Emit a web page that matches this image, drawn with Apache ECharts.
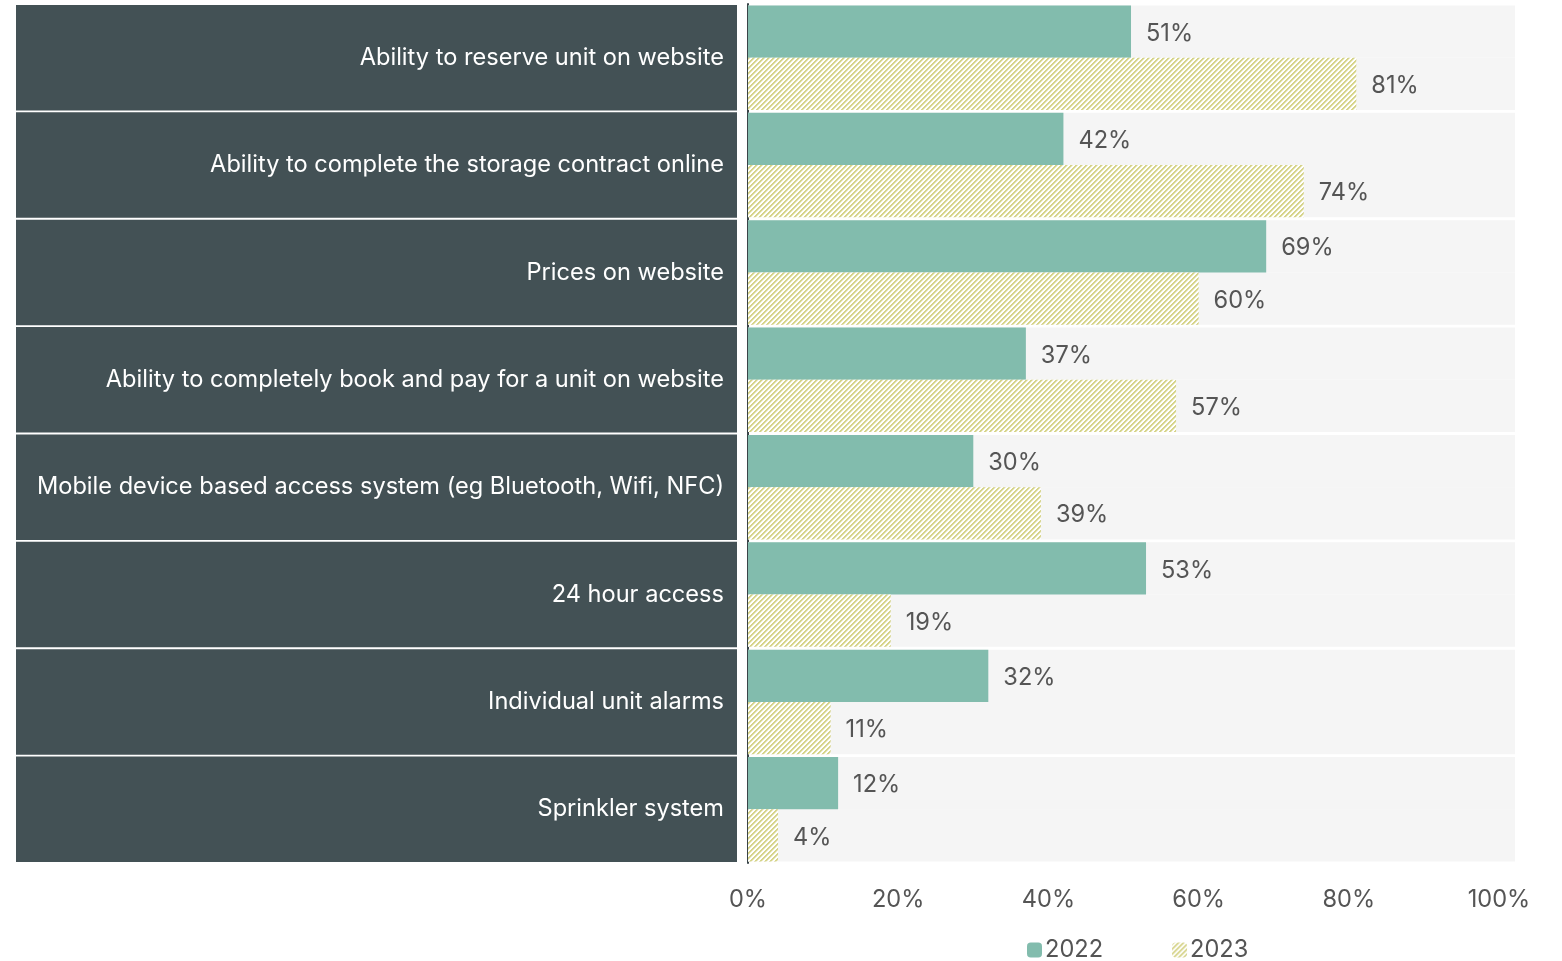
<!DOCTYPE html>
<html><head><meta charset="utf-8">
<script src="https://cdn.jsdelivr.net/npm/echarts@6/dist/echarts.min.js"></script>
<style>html,body{margin:0;padding:0;background:#fff}#c{width:1562px;height:961px}</style>
</head><body><div id="c"></div>
<script>
const categories = [
  'Ability to reserve unit on website',
  'Ability to complete the storage contract online',
  'Prices on website',
  'Ability to completely book and pay for a unit on website',
  'Mobile device based access system (eg Bluetooth, Wifi, NFC)',
  '24 hour access',
  'Individual unit alarms',
  'Sprinkler system'
];
const values2022 = [51, 42, 69, 37, 30, 53, 32, 12];
const values2023 = [81, 74, 60, 57, 39, 19, 11, 4];
const seriesNames = ['2022', '2023'];
const xTicks = [0, 20, 40, 60, 80, 100];

function hatch() {
  const s = 5;
  const c = document.createElement('canvas');
  c.width = c.height = s;
  const g = c.getContext('2d');
  const img = g.createImageData(s, s);
  for (let y = 0; y < s; y++) for (let x = 0; x < s; x++) {
    const k = (x + y) % s;
    let col = [255, 255, 255];
    if (k < 2) col = [214, 212, 138];
    else if (k === 2) col = [236, 235, 198];
    const i = (y * s + x) * 4;
    img.data[i] = col[0]; img.data[i + 1] = col[1]; img.data[i + 2] = col[2]; img.data[i + 3] = 255;
  }
  g.putImageData(img, 0, 0);
  return c;
}
const FONT = 'Inter, "Open Sans", sans-serif';
const FS = 23.6;
const chart = echarts.init(document.getElementById('c'), null, {renderer: 'canvas'});
const labelStyle = {show: true, position: 'right', distance: 15, offset: [0, 2], color: '#555', fontSize: FS, fontFamily: FONT, formatter: p => p.value + '%'};
chart.setOption({
  animation: false,
  textStyle: {fontFamily: FONT},
  grid: {left: 748, right: 47, top: 4, bottom: 98, containLabel: false},
  legend: {
    data: seriesNames, top: 933, left: 1022, itemWidth: 15, itemHeight: 15, itemGap: 69,
    textStyle: {color: '#555', fontSize: FS, fontFamily: FONT, padding: [2, 0, 0, -2]}
  },
  xAxis: {
    type: 'value', min: 0, max: 102.13, interval: 20,
    axisLine: {show: false}, axisTick: {show: false}, splitLine: {show: false},
    axisLabel: {color: '#555', fontSize: FS, fontFamily: FONT, margin: 25, showMaxLabel: false,
      formatter: v => xTicks.indexOf(v) >= 0 ? v + '%' : ''}
  },
  yAxis: {
    type: 'category', data: categories, inverse: true,
    axisLine: {show: true, lineStyle: {color: '#3a4448', width: 2}},
    axisTick: {show: false}, splitLine: {show: false},
    axisLabel: {
      margin: 11, color: '#ffffff', fontSize: FS, fontFamily: FONT,
      backgroundColor: '#435155', width: 708, height: 104.5, lineHeight: 104.5,
      padding: [1, 13, 0, 0], align: 'right', verticalAlign: 'middle'
    }
  },
  series: [
    {
      name: seriesNames[0], type: 'bar', data: values2022, barGap: '0%', barCategoryGap: '2.7%',
      itemStyle: {color: '#82BCAD'},
      showBackground: true, backgroundStyle: {color: '#F5F5F5'},
      label: labelStyle
    },
    {
      name: seriesNames[1], type: 'bar', data: values2023, barGap: '0%', barCategoryGap: '2.7%',
      itemStyle: {color: {image: hatch(), repeat: 'repeat'}},
      showBackground: true, backgroundStyle: {color: '#F5F5F5'},
      label: labelStyle
    }
  ]
});
</script></body></html>
